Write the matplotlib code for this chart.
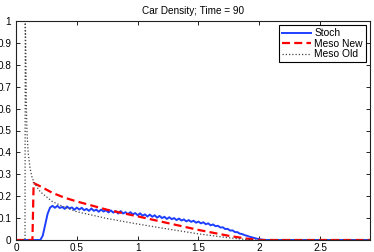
import numpy as np
import matplotlib
matplotlib.use('Agg')
import matplotlib.pyplot as plt

plt.rcParams['font.family'] = ['Liberation Sans', 'DejaVu Sans']

# Stochastic simulation (noisy profile)
stoch_x = [0.0, 0.20, 0.22, 0.24, 0.26, 0.28, 0.30, 0.32, 0.34, 0.36, 0.38,
           0.40, 0.42, 0.44, 0.46, 0.48, 0.50, 0.52, 0.54, 0.56, 0.58,
           0.60, 0.62, 0.64, 0.66, 0.68, 0.70, 0.72, 0.74, 0.76, 0.78,
           0.80, 0.82, 0.84, 0.86, 0.88, 0.90, 0.92, 0.94, 0.96, 0.98,
           1.00, 1.02, 1.04, 1.06, 1.08, 1.10, 1.12, 1.14, 1.16, 1.18,
           1.20, 1.22, 1.24, 1.26, 1.28, 1.30, 1.32, 1.34, 1.36, 1.38,
           1.40, 1.42, 1.44, 1.46, 1.48, 1.50, 1.52, 1.54, 1.56, 1.58,
           1.60, 1.62, 1.64, 1.66, 1.68, 1.70, 1.72, 1.74, 1.76, 1.78,
           1.80, 1.82, 1.84, 1.86, 1.88, 1.90, 1.92, 1.94, 1.96, 1.98,
           2.00, 2.02, 2.05, 2.91]
stoch_y = [0.0, 0.0, 0.02, 0.07, 0.12, 0.148, 0.156, 0.147, 0.156, 0.146, 0.151,
           0.142, 0.153, 0.144, 0.149, 0.138, 0.148, 0.139, 0.147, 0.136, 0.142,
           0.133, 0.144, 0.133, 0.139, 0.129, 0.139, 0.130, 0.136, 0.126, 0.135,
           0.125, 0.132, 0.121, 0.132, 0.121, 0.127, 0.118, 0.127, 0.117, 0.123,
           0.113, 0.122, 0.111, 0.117, 0.107, 0.116, 0.106, 0.113, 0.102, 0.110,
           0.100, 0.106, 0.096, 0.104, 0.095, 0.100, 0.091, 0.098, 0.089, 0.094,
           0.085, 0.091, 0.083, 0.088, 0.079, 0.084, 0.076, 0.081, 0.072, 0.076,
           0.067, 0.071, 0.063, 0.065, 0.057, 0.058, 0.050, 0.051, 0.043, 0.044,
           0.036, 0.036, 0.029, 0.027, 0.022, 0.019, 0.015, 0.012, 0.009, 0.006,
           0.004, 0.002, 0.0, 0.0]

# New mesoscopic model
meso_new_x = [0.0, 0.135, 0.145, 0.2, 0.3, 0.4, 0.5, 0.75, 1.0, 1.25, 1.5,
              1.75, 1.9, 2.0, 2.91]
meso_new_y = [0.0, 0.0, 0.26, 0.245, 0.215, 0.193, 0.176, 0.138, 0.108, 0.077,
              0.046, 0.019, 0.006, 0.0, 0.0]

# Old mesoscopic model
meso_old_x = [0.0, 0.074, 0.076, 0.08, 0.085, 0.09, 0.1, 0.115, 0.13, 0.15,
              0.2, 0.3, 0.4, 0.5, 0.75, 1.0, 1.25, 1.5, 1.75, 1.9, 1.95, 2.91]
meso_old_y = [0.0, 0.0, 1.0, 0.9, 0.62, 0.5, 0.4, 0.33, 0.29, 0.26,
              0.22, 0.175, 0.15, 0.129, 0.098, 0.073, 0.05, 0.028, 0.01,
              0.002, 0.0, 0.0]

fig = plt.figure(figsize=(3.74, 2.52), dpi=100)
ax = fig.add_axes([16 / 374, 12 / 252, 354 / 374, 219 / 252])

ax.plot(stoch_x, stoch_y, color='#1f3fff', lw=1.4, label='Stoch')
ax.plot(meso_new_x, meso_new_y, color='red', lw=1.6, ls=(0, (3.6, 1.9)),
        label='Meso New')
ax.plot(meso_old_x, meso_old_y, color='#444444', lw=0.9, ls=(0, (1, 1.6)),
        label='Meso Old')

ax.set_xlim(0, 2.91)
ax.set_ylim(0, 1)
ax.set_xticks([0, 0.5, 1, 1.5, 2, 2.5])
ax.set_xticklabels(['0', '0.5', '1', '1.5', '2', '2.5'])
ax.set_yticks(np.arange(0, 1.01, 0.1))
ax.set_yticklabels(['0', '0.1', '0.2', '0.3', '0.4', '0.5', '0.6', '0.7',
                    '0.8', '0.9', '1'])
ax.tick_params(direction='in', top=True, right=True, length=3, width=0.6,
               labelsize=7.2, pad=3.5)
ax.tick_params(axis='x', pad=2.5)
for s in ax.spines.values():
    s.set_linewidth(0.8)
    s.set_color('#222222')

ax.set_title('Car Density; Time = 90', fontsize=7.2, pad=5)

leg = ax.legend(loc='upper right', fontsize=7.4, fancybox=False,
                framealpha=1, edgecolor='black', handlelength=2.8,
                handletextpad=0.3, labelspacing=0.05, borderpad=0.3,
                borderaxespad=0.4)
leg.get_frame().set_linewidth(0.8)

fig.savefig('out.png', dpi=100)
